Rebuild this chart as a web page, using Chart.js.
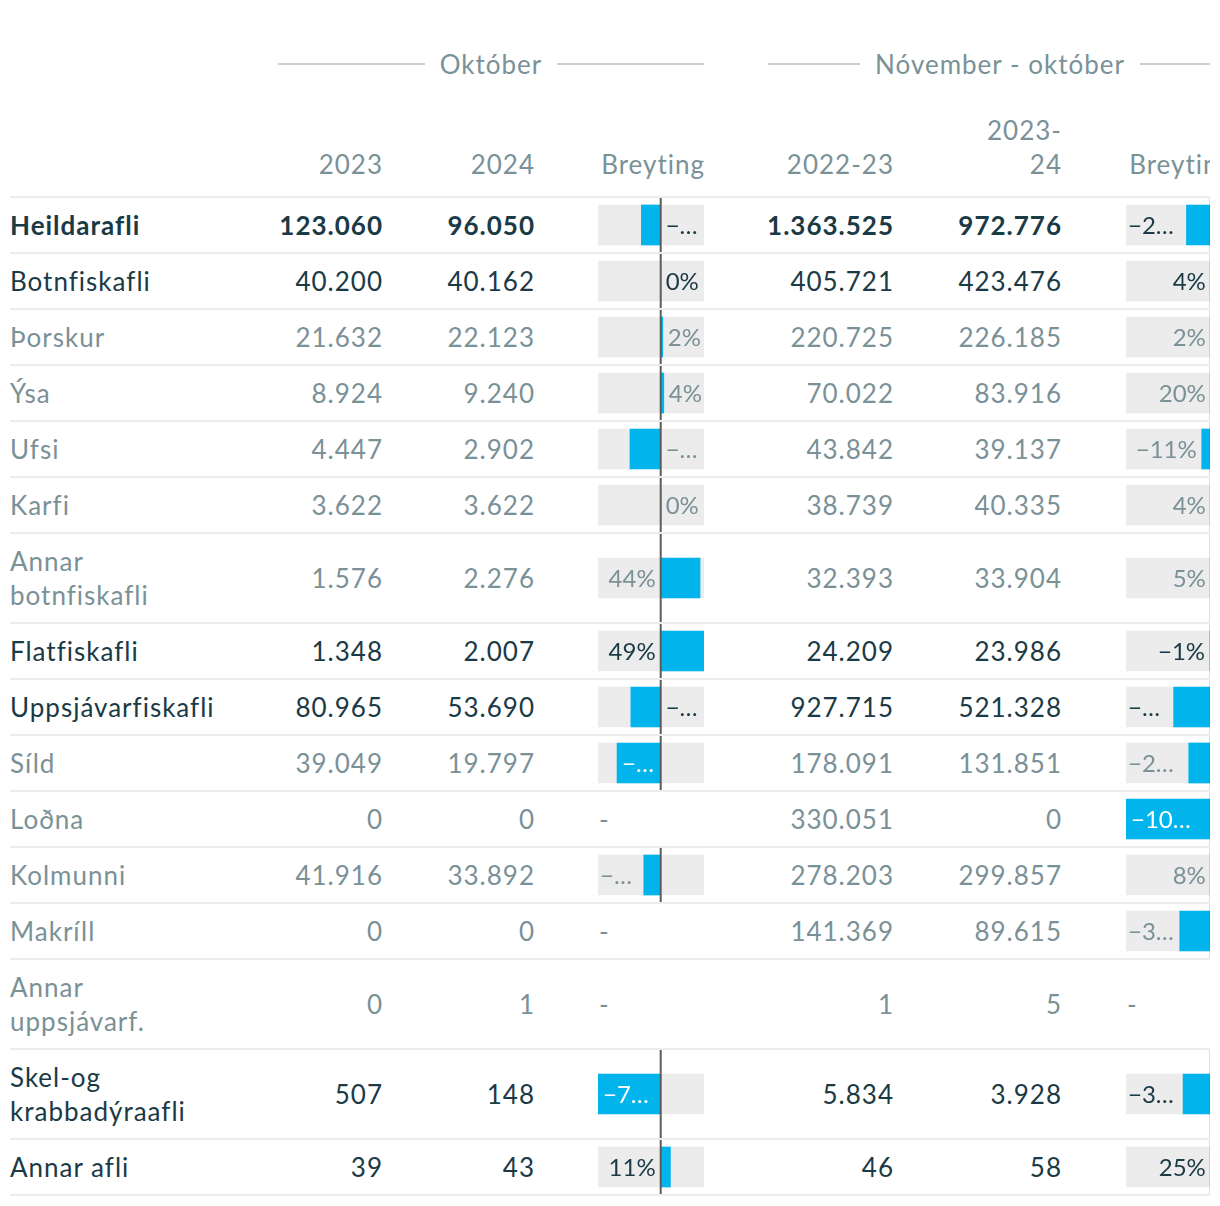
<!DOCTYPE html>
<html>
<head>
<meta charset="utf-8">
<script src="https://cdn.jsdelivr.net/npm/chart.js@4"></script>
<style>
  html, body { margin: 0; padding: 0; background: #fff; }
  body { font-family: Lato, "Noto Sans", sans-serif; font-size: 26px; letter-spacing: 1px; }
  #wrap { position: relative; width: 1210px; height: 1206px; overflow: hidden; }
  .group { position: absolute; top: 47px; height: 34px; display: flex; align-items: center; color: #7a9197; line-height: 34px; }
  .group .ln { flex: 1; height: 2px; background: #cfcfcf; }
  .group .tx { padding: 0 15px; white-space: nowrap; }
  table { position: absolute; left: 10px; top: 113px; width: 1223px; table-layout: fixed; border-collapse: separate; border-spacing: 0; }
  th { font-weight: normal; color: #7a9197; text-align: right; vertical-align: bottom; padding: 0 0 15px 0; line-height: 34px; border-bottom: 2px solid #ececec; white-space: normal; }
  td { padding: 10px 0; line-height: 34px; border-bottom: 2px solid #ececec; text-align: right; vertical-align: middle; position: relative; white-space: nowrap; }
  td.lab { text-align: left; white-space: normal; }
  .l0 { color: #1a3a46; font-weight: bold; }
  .l1 { color: #1a3a46; }
  .l2 { color: #7a9197; }
  .barbox { position: absolute; right: 1px; top: 0; bottom: 0; width: 106px; letter-spacing: 0; }
  .barbox canvas { letter-spacing: 0; }
  .dash { display: inline-block; width: 106px; text-align: left; letter-spacing: 0; }
  .nar { display: inline-block; width: 90px; text-align: right; }
</style>
</head>
<body>
<div id="wrap">
  <div class="group" style="left:278px;width:426px"><div class="ln"></div><div class="tx" id="g0"></div><div class="ln"></div></div>
  <div class="group" style="left:768px;width:464px"><div class="ln"></div><div class="tx" id="g1"></div><div class="ln"></div></div>
  <table id="tbl">
    <colgroup>
      <col style="width:210px"><col style="width:163px"><col style="width:152px"><col style="width:170px"><col style="width:189px"><col style="width:168px"><col style="width:171px">
    </colgroup>
    <thead><tr id="hdr"></tr></thead>
    <tbody id="body"></tbody>
  </table>
</div>
<script>
// ---------- DATA ----------
const categories = ["Heildarafli","Botnfiskafli","Þorskur","Ýsa","Ufsi","Karfi","Annar botnfiskafli","Flatfiskafli","Uppsjávarfiskafli","Síld","Loðna","Kolmunni","Makríll","Annar uppsjávarf.","Skel-og krabbadýraafli","Annar afli"];
const rowLevel   = [0,1,2,2,2,2,2,1,1,2,2,2,2,2,1,1];
const oct2023    = [123060,40200,21632,8924,4447,3622,1576,1348,80965,39049,0,41916,0,0,507,39];
const oct2024    = [96050,40162,22123,9240,2902,3622,2276,2007,53690,19797,0,33892,0,1,148,43];
const octChange  = [-21.9,0,2.3,3.5,-34.7,0,44.4,48.9,-33.7,-49.3,null,-19.1,null,null,-70.8,11];
const ytd2223    = [1363525,405721,220725,70022,43842,38739,32393,24209,927715,178091,330051,278203,141369,1,5834,46];
const ytd2324    = [972776,423476,226185,83916,39137,40335,33904,23986,521328,131851,0,299857,89615,5,3928,58];
const ytdChange  = [-28.7,4.4,2.4,19.8,-10.7,4.1,4.7,-0.9,-43.8,-26.0,-100,7.8,-36.6,null,-32.7,25];
const groupHeaders  = ["Október","Nóvember - október"];
const columnHeaders = ["2023","2024","Breyting","2022-23","2023-24","Breyting"];

// ---------- STYLE ----------
const BLUE = '#01b4ec', GREY_BG = '#ececec', ZERO = '#5c5c5c';
const TXT = ['#1a3a46','#1a3a46','#7a9197'];

function fmtNum(n) {
  const s = String(Math.round(n));
  return s.replace(/\B(?=(\d{3})+(?!\d))/g, '.');
}
function fmtPct(v) {
  const r = Math.round(v);
  if (r === 0) return '0%';
  return (r < 0 ? '\u2212' + Math.abs(r) : String(r)) + '%';
}

document.getElementById('g0').textContent = groupHeaders[0];
document.getElementById('g1').textContent = groupHeaders[1];

const hdr = document.getElementById('hdr');
hdr.appendChild(document.createElement('th'));
columnHeaders.forEach((h, i) => {
  const th = document.createElement('th');
  if (i === 4) { const s = document.createElement('span'); s.className = 'nar'; s.textContent = h; th.appendChild(s); }
  else th.textContent = h;
  hdr.appendChild(th);
});

const body = document.getElementById('body');
const pending = [];
categories.forEach((c, i) => {
  const tr = document.createElement('tr');
  const cls = 'l' + rowLevel[i];
  const addTd = (txt, extra) => { const td = document.createElement('td'); td.className = cls + (extra ? ' ' + extra : ''); td.textContent = txt; tr.appendChild(td); return td; };
  addTd(c, 'lab');
  addTd(fmtNum(oct2023[i]));
  addTd(fmtNum(oct2024[i]));
  const b1 = addTd('', 'l2');
  addTd(fmtNum(ytd2223[i]));
  addTd(fmtNum(ytd2324[i]));
  const b2 = addTd('', 'l2');
  [[b1, octChange, i], [b2, ytdChange, i]].forEach(([td, arr, k]) => {
    td.className = 'l2';
    if (arr[k] === null) {
      const s = document.createElement('span'); s.className = 'dash'; s.textContent = '-'; td.appendChild(s);
    } else {
      td.innerHTML = '&nbsp;';
      const box = document.createElement('div'); box.className = 'barbox';
      const cv = document.createElement('canvas'); box.appendChild(cv); td.appendChild(box);
      pending.push({cv, arr, k, color: TXT[rowLevel[i]]});
    }
  });
  body.appendChild(tr);
});

function domain(arr) {
  const v = arr.filter(x => x !== null);
  return [Math.min(0, ...v), Math.max(0, ...v)];
}

const labelPlugin = {
  id: 'cellDecor',
  afterDatasetsDraw(chart, args, opts) {
    const ctx = chart.ctx, xs = chart.scales.x, ys = chart.scales.y;
    const left = chart.chartArea.left, right = chart.chartArea.right;
    const v = opts.value;
    const x0 = xs.getPixelForValue(0), xe = xs.getPixelForValue(v);
    const cy = ys.getPixelForValue(0);
    ctx.save();
    ctx.strokeStyle = ZERO; ctx.lineWidth = 2;
    ctx.beginPath(); ctx.moveTo(x0, 0); ctx.lineTo(x0, chart.height); ctx.stroke();

    ctx.font = '24px Lato';
    if ('letterSpacing' in ctx) ctx.letterSpacing = '0px';
    ctx.textBaseline = 'middle';
    const txt = fmtPct(v);
    const w = ctx.measureText(txt).width;
    const neg = v < 0, pad = 5, ep = 2;
    const barLen = Math.abs(xe - x0);
    const spA = neg ? xe - left : right - xe;
    const spB = neg ? right - x0 : x0 - left;
    const avA = spA - pad - 1, avB = spB - pad - ep, avC = barLen - 12;
    let mode;
    if (w <= avA) mode = 'A';
    else if (w <= avC) mode = 'C';
    else if (w <= avB) mode = 'B';
    else if (barLen >= spB - 1 && barLen >= spA) mode = 'C';
    else if (spA > spB + 1.5) mode = 'A';
    else mode = 'B';
    let bx0, bx1, align, col = opts.color, tol = 0;
    if (mode === 'A') {
      if (neg) { bx0 = left + ep; bx1 = xe - pad; align = 'right'; }
      else { bx0 = xe + pad; bx1 = right - ep; align = 'left'; }
    } else if (mode === 'B') {
      if (neg) { bx0 = x0 + pad; bx1 = right - ep; align = 'left'; }
      else { bx0 = left + ep; bx1 = x0 - pad; align = 'right'; }
    } else {
      col = '#ffffff'; tol = 2.5;
      if (neg) { bx0 = xe + 5; bx1 = x0 - 7; } else { bx0 = x0 + 7; bx1 = xe - 5; }
      align = 'left';
    }
    const bw = bx1 - bx0;
    let out = txt;
    if (w > bw) {
      let k = txt.length - 1;
      while (k > 1 && ctx.measureText(txt.slice(0, k) + '\u2026').width > bw) k--;
      if (k === 1 && ctx.measureText(txt.slice(0, 1) + '\u2026').width > bw + tol) k = 0;
      out = txt.slice(0, k) + '\u2026';
      align = 'left';
    }
    ctx.fillStyle = col;
    ctx.textAlign = align;
    ctx.fillText(out, align === 'left' ? bx0 : bx1, cy + 1);
    ctx.restore();
  }
};

const dom1 = domain(octChange), dom2 = domain(ytdChange);
pending.forEach(p => {
  const dom = p.arr === octChange ? dom1 : dom2;
  const v = p.arr[p.k];
  new Chart(p.cv, {
    type: 'bar',
    data: {
      labels: [categories[p.k]],
      datasets: [
        { data: [v], backgroundColor: BLUE, barThickness: 40, grouped: false, order: 1, borderWidth: 0 },
        { data: [[dom[0], dom[1]]], backgroundColor: GREY_BG, barThickness: 40, grouped: false, order: 2, borderWidth: 0 }
      ]
    },
    options: {
      indexAxis: 'y',
      animation: false,
      responsive: true,
      maintainAspectRatio: false,
      layout: { padding: 0 },
      events: [],
      scales: {
        x: { type: 'linear', min: dom[0], max: dom[1], display: false },
        y: { display: false }
      },
      plugins: {
        legend: { display: false },
        tooltip: { enabled: false },
        cellDecor: { value: v, color: p.color }
      }
    },
    plugins: [labelPlugin]
  });
});
</script>
</body>
</html>
